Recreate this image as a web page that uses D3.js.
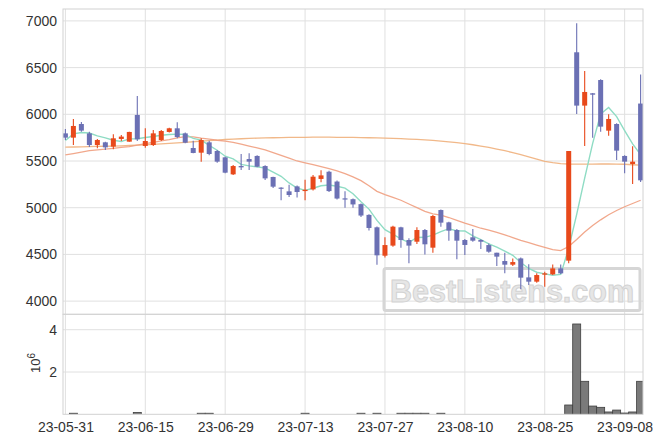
<!DOCTYPE html>
<html><head><meta charset="utf-8">
<script src="https://cdn.jsdelivr.net/npm/d3@7/dist/d3.min.js"></script>
<style>
html,body{margin:0;padding:0;background:#fff;}
svg{display:block;}
</style></head>
<body><svg id="c" width="663" height="444"></svg>
<script>
const dates = ["23-05-31","23-06-01","23-06-02","23-06-05","23-06-07","23-06-08","23-06-09","23-06-12","23-06-13","23-06-14",
"23-06-15","23-06-16","23-06-19","23-06-20","23-06-21","23-06-22","23-06-23","23-06-26","23-06-27","23-06-28",
"23-06-29","23-06-30","23-07-03","23-07-04","23-07-05","23-07-06","23-07-07","23-07-10","23-07-11","23-07-12",
"23-07-13","23-07-14","23-07-17","23-07-18","23-07-19","23-07-20","23-07-21","23-07-24","23-07-25","23-07-26",
"23-07-27","23-07-28","23-07-31","23-08-01","23-08-02","23-08-03","23-08-04","23-08-07","23-08-08","23-08-09",
"23-08-10","23-08-11","23-08-14","23-08-16","23-08-17","23-08-18","23-08-21","23-08-22","23-08-23","23-08-24",
"23-08-25","23-08-28","23-08-29","23-08-30","23-08-31","23-09-01","23-09-04","23-09-05","23-09-06","23-09-07",
"23-09-08","23-09-11","23-09-12"];
const opens = [5796,5750,5896,5796,5671,5700,5654,5736,5707,5993,5661,5671,5725,5811,5850,5796,5639,5589,5700,5607,
5539,5357,5446,5521,5554,5446,5329,5215,5175,5228,5178,5196,5308,5385,5280,5100,5091,5038,4923,4790,
4486,4594,4790,4654,4636,4761,4572,4975,4843,4761,4654,4683,4654,4600,4518,4429,4390,4457,4254,4208,
4283,4286,4350,4433,6664,6093,6225,6367,5825,5896,5554,5468,6115];
const highs = [5843,5950,5918,5814,5736,5707,5786,5779,5814,6196,5850,5832,5832,5857,5914,5804,5718,5743,5718,5618,
5546,5457,5575,5582,5561,5454,5332,5218,5245,5238,5298,5350,5402,5395,5290,5175,5098,5045,4930,4800,
4683,4807,4797,4672,4790,4772,4922,4982,4850,4772,4665,4772,4661,4618,4518,4518,4457,4468,4394,4297,
4315,4393,4393,5607,6974,6464,6228,6374,6000,5904,5561,5657,6425];
const lows = [5725,5671,5814,5650,5636,5618,5625,5714,5707,5714,5643,5661,5714,5804,5743,5689,5582,5493,5561,5482,
5368,5350,5404,5404,5432,5296,5210,5080,5115,5108,5080,5185,5273,5168,5087,5000,5000,4900,4755,4390,
4468,4583,4572,4404,4611,4500,4518,4797,4647,4447,4493,4636,4558,4518,4375,4297,4375,4126,4173,4197,
4154,4279,4290,4404,6003,5660,5750,5814,5771,5511,5368,5254,5275];
const closes = [5750,5875,5825,5671,5725,5646,5743,5761,5811,5732,5714,5796,5821,5850,5757,5696,5586,5725,5575,5493,
5375,5446,5432,5493,5439,5314,5225,5210,5136,5168,5192,5332,5346,5178,5098,5095,5035,4916,4783,4490,
4600,4797,4654,4594,4761,4608,4911,4840,4754,4647,4601,4647,4636,4529,4476,4390,4418,4251,4208,4279,
4297,4350,4297,5607,6093,6239,6210,5868,5950,5611,5493,5493,5293];
const ma5 = [5720,5790,5805,5800,5769,5748,5722,5709,5737,5739,5752,5763,5775,5783,5788,5784,5742,5723,5668,5615,
5551,5523,5464,5448,5437,5425,5381,5336,5265,5211,5186,5208,5235,5243,5229,5210,5150,5064,4985,4864,
4765,4717,4665,4627,4681,4683,4706,4743,4775,4752,4751,4698,4657,4612,4578,4536,4490,4413,4349,4309,
4291,4277,4286,4566,4929,5317,5689,6003,6072,5976,5826,5683,5568];
const ma20 = [5565,5580,5595,5610,5620,5628,5636,5645,5655,5670,5685,5700,5715,5730,5748,5760,5758,5745,5735,5722,
5712,5700,5680,5660,5640,5618,5590,5560,5530,5500,5480,5460,5440,5418,5395,5365,5330,5290,5235,5175,
5140,5110,5080,5040,5000,4960,4935,4920,4895,4865,4835,4808,4780,4760,4735,4710,4680,4650,4625,4600,
4575,4552,4540,4585,4660,4740,4810,4870,4925,4970,5010,5045,5080];
const ma60 = [5648,5650,5652,5654,5656,5658,5660,5663,5666,5670,5674,5678,5683,5688,5694,5700,5706,5712,5718,5724,
5730,5734,5738,5742,5745,5747,5749,5751,5752,5753,5754,5755,5755,5755,5754,5753,5752,5751,5749,5747,
5745,5742,5739,5735,5731,5726,5720,5713,5705,5696,5686,5674,5660,5645,5628,5610,5590,5568,5545,5520,
5497,5482,5472,5468,5466,5466,5467,5468,5468,5467,5465,5460,5455];
const volumes = [10000,50000,10000,10000,10000,10000,10000,10000,10000,90000,10000,10000,10000,10000,10000,10000,10000,50000,50000,10000,
10000,10000,10000,10000,10000,10000,10000,10000,10000,10000,50000,10000,10000,10000,10000,10000,10000,50000,10000,50000,
10000,10000,50000,50000,50000,50000,10000,50000,10000,10000,10000,10000,10000,10000,10000,10000,10000,10000,10000,10000,
10000,10000,10000,440000,4270000,1560000,390000,330000,110000,200000,60000,110000,1560000];
const xTickIdx = [0,10,20,30,40,50,60,70];
const xTickLabels = ["23-05-31","23-06-15","23-06-29","23-07-13","23-07-27","23-08-10","23-08-25","23-09-08"];
const priceTicks = [4000,4500,5000,5500,6000,6500,7000];
const volTicks = [2000000,4000000];

const L=63, R=643, PT=9, PB=314.3, VB=414.3;
const svg = d3.select("#c");
const FONT = "Liberation Sans, Arial, sans-serif";
const x = d3.scaleLinear().domain([-0.3, 72.3]).range([L, R]);
const yP = d3.scaleLinear().domain([4000, 7000]).range([301.1, 20.9]);
const yV = d3.scaleLinear().domain([0, 4000000]).range([VB, 329.7]);
const gridC = "#e0e0e0";

const defs = svg.append("defs");
defs.append("clipPath").attr("id","cp").append("rect").attr("x",L).attr("y",PT).attr("width",R-L).attr("height",PB-PT);
defs.append("clipPath").attr("id","cv").append("rect").attr("x",L).attr("y",PB).attr("width",R-L).attr("height",VB-PB);

// grid
const g = svg.append("g");
g.selectAll(".vg").data(xTickIdx).join("line")
  .attr("x1",d=>x(d)).attr("x2",d=>x(d)).attr("y1",PT).attr("y2",VB)
  .attr("stroke",gridC).attr("stroke-width",1);
g.selectAll(".hg").data(priceTicks).join("line")
  .attr("x1",L).attr("x2",R).attr("y1",d=>yP(d)).attr("y2",d=>yP(d))
  .attr("stroke",gridC).attr("stroke-width",1);
g.selectAll(".hv").data(volTicks).join("line")
  .attr("x1",L).attr("x2",R).attr("y1",d=>yV(d)).attr("y2",d=>yV(d))
  .attr("stroke",gridC).attr("stroke-width",1);

// watermark
const wm = svg.append("g");
wm.append("rect").attr("x",384).attr("y",268.5).attr("width",256).attr("height",42).attr("rx",2)
  .attr("fill","none").attr("stroke","#d6d6d6").attr("stroke-width",3);
wm.append("text").attr("x",512).attr("y",302).attr("text-anchor","middle")
  .attr("font-family",FONT).attr("font-weight","bold").attr("font-size",31)
  .attr("textLength",244).attr("lengthAdjust","spacingAndGlyphs")
  .attr("fill","#e6e6e6").attr("stroke","#d3d3d3").attr("stroke-width",1)
  .text("BestListens.com");

// MA lines
const idx = d3.range(closes.length);
const lineGen = arr => d3.line().x(i=>x(i)).y(i=>yP(arr[i]))(idx);
const pl = svg.append("g").attr("clip-path","url(#cp)");
pl.append("path").attr("d",lineGen(ma60)).attr("fill","none").attr("stroke","#efb07c").attr("stroke-width",1.3).attr("opacity",0.9);
pl.append("path").attr("d",lineGen(ma20)).attr("fill","none").attr("stroke","#ef9f80").attr("stroke-width",1.3).attr("opacity",0.9);
pl.append("path").attr("d",lineGen(ma5)).attr("fill","none").attr("stroke","#8fdcc4").attr("stroke-width",1.4);

// candles
const UP="#e8491b", DN="#6b70b4";
const cg = svg.append("g").attr("clip-path","url(#cp)");
const c = cg.selectAll("g.c").data(idx).join("g");
c.append("line").attr("x1",i=>x(i)).attr("x2",i=>x(i))
  .attr("y1",i=>yP(highs[i])).attr("y2",i=>yP(lows[i]))
  .attr("stroke",i=>closes[i]>=opens[i]?UP:DN).attr("stroke-width",1.1);
c.append("rect").attr("x",i=>x(i)-2.5).attr("width",5)
  .attr("y",i=>yP(Math.max(opens[i],closes[i])))
  .attr("height",i=>Math.max(1.2, Math.abs(yP(opens[i])-yP(closes[i]))))
  .attr("fill",i=>closes[i]>=opens[i]?UP:DN);

// volume
const vg = svg.append("g").attr("clip-path","url(#cv)");
vg.selectAll("rect").data(idx).join("rect")
  .attr("x",i=>x(i)-4).attr("width",8)
  .attr("y",i=>yV(volumes[i])).attr("height",i=>VB-yV(volumes[i]))
  .attr("fill","#7a7a7a")
  .attr("stroke",i=>(VB-yV(volumes[i]))>0.9?"#3e3e3e":"none").attr("stroke-width",0.8);

// frame
const fr = svg.append("g").attr("fill","none").attr("stroke","#d2d2d2").attr("stroke-width",1);
fr.append("rect").attr("x",L).attr("y",PT).attr("width",R-L).attr("height",PB-PT);
fr.append("rect").attr("x",L).attr("y",PB).attr("width",R-L).attr("height",VB-PB);

// axes
const ax = svg.append("g").attr("transform",`translate(${L},0)`)
  .call(d3.axisLeft(yP).tickValues(priceTicks).tickSize(0).tickPadding(6).tickFormat(d3.format("d")));
const axv = svg.append("g").attr("transform",`translate(${L},0)`)
  .call(d3.axisLeft(yV).tickValues(volTicks).tickSize(0).tickPadding(6).tickFormat(d=>d/1e6));
const axx = svg.append("g").attr("transform",`translate(0,${VB})`)
  .call(d3.axisBottom(x).tickValues(xTickIdx).tickSize(0).tickPadding(8).tickFormat((d,k)=>xTickLabels[k]));
[ax,axv,axx].forEach(a=>{
  a.select(".domain").remove();
  a.selectAll("text").attr("font-family",FONT).attr("font-size",14).attr("fill","#333");
});

// 10^6 label
const lab = svg.append("text").attr("transform","translate(40,363) rotate(-90)")
  .attr("text-anchor","middle").attr("font-family",FONT).attr("font-size",13).attr("fill","#333");
lab.append("tspan").text("10");
lab.append("tspan").attr("dy",-5).attr("font-size",10).text("6");
</script>
</body></html>
